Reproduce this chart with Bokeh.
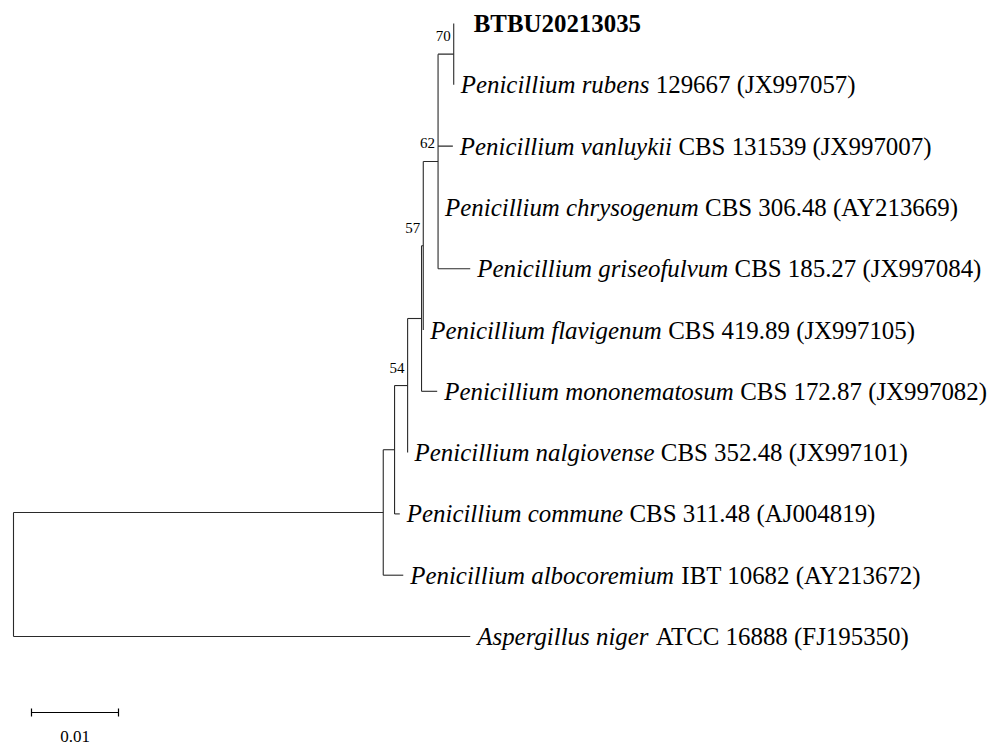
from bokeh.plotting import figure
from bokeh.models import ColumnDataSource, Range1d
from bokeh.core.properties import value
from bokeh.embed import file_html
from bokeh.resources import INLINE

# ---------------- data ----------------
# leaves, top to bottom
leaf_ids = ["BTBU20213035", "rubens", "vanluykii", "chrysogenum", "griseofulvum",
            "flavigenum", "mononematosum", "nalgiovense", "commune", "albocoremium", "niger"]
leaf_italic = ["", "Penicillium rubens", "Penicillium vanluykii", "Penicillium chrysogenum",
               "Penicillium griseofulvum", "Penicillium flavigenum", "Penicillium mononematosum",
               "Penicillium nalgiovense", "Penicillium commune", "Penicillium albocoremium",
               "Aspergillus niger"]
leaf_strain = ["BTBU20213035", "129667 (JX997057)", "CBS 131539 (JX997007)",
               "CBS 306.48 (AY213669)", "CBS 185.27 (JX997084)", "CBS 419.89 (JX997105)",
               "CBS 172.87 (JX997082)", "CBS 352.48 (JX997101)", "CBS 311.48 (AJ004819)",
               "IBT 10682 (AY213672)", "ATCC 16888 (FJ195350)"]

# tree edges: parent, child, branch length (substitutions per site)
edge_parent = ["root", "root", "pen", "pen", "a", "a", "n54", "n54", "b", "b",
               "n57", "n57", "n62", "n62", "n62", "n62", "n70", "n70"]
edge_child = ["pen", "niger", "a", "albocoremium", "n54", "commune", "b", "nalgiovense",
              "n57", "mononematosum", "n62", "flavigenum", "n70", "vanluykii",
              "chrysogenum", "griseofulvum", "BTBU20213035", "rubens"]
edge_length = [0.0425, 0.0525, 0.0013, 0.0023, 0.0015, 0.0006, 0.0016, 0.0,
               0.0002, 0.0018, 0.0017, 0.0, 0.0018, 0.0017, 0.0, 0.0037, 0.0, 0.0]

# bootstrap support
support_nodes = ["n70", "n62", "n57", "n54"]
support_values = ["70", "62", "57", "54"]

scale_bar_length = 0.01
scale_bar_label = "0.01"

# ---------------- layout ----------------
W, H = 995, 747
PX_PER_UNIT = 8700.0       # 87 px per 0.01
ROW_PX = 61.3
ROOT_PX = 13               # root position on canvas
TOP_PX = 23                # first leaf position on canvas

internal = list(dict.fromkeys(edge_parent))
children = {n: [] for n in internal}
blen = {}
for par, ch, ln in zip(edge_parent, edge_child, edge_length):
    children[par].append(ch)
    blen[ch] = ln

xpos = {"root": 0.0}
def set_x(node):
    for c in children.get(node, []):
        xpos[c] = xpos[node] + blen[c]
        set_x(c)
set_x("root")

ypos = {name: float(i) for i, name in enumerate(leaf_ids)}
def set_y(node):
    if node in ypos:
        return ypos[node]
    ys = [set_y(c) for c in children[node]]
    ypos[node] = (min(ys) + max(ys)) / 2.0
    return ypos[node]
set_y("root")

x0s, y0s, x1s, y1s = [], [], [], []
for par, ch in zip(edge_parent, edge_child):
    x0s.append(xpos[par]); y0s.append(ypos[ch]); x1s.append(xpos[ch]); y1s.append(ypos[ch])
for node in internal:
    ys = [ypos[c] for c in children[node]]
    x0s.append(xpos[node]); y0s.append(min(ys)); x1s.append(xpos[node]); y1s.append(max(ys))

p = figure(width=W, height=H, output_backend="svg", toolbar_location=None,
           x_range=Range1d(-ROOT_PX / PX_PER_UNIT, (W - ROOT_PX) / PX_PER_UNIT),
           y_range=Range1d((H - TOP_PX) / ROW_PX, -TOP_PX / ROW_PX),
           min_border=0)
p.axis.visible = False
p.grid.visible = False
p.outline_line_color = None
p.background_fill_color = "white"
p.border_fill_color = "white"

p.segment(x0=x0s, y0=y0s, x1=x1s, y1=y1s, line_color="#2a2a2a", line_width=1.1)

# ---------------- labels ----------------
FONT = value("Liberation Serif")
FS = 24.9
GAP = 7
ITALIC_W = {" ": 250, "A": 611, "P": 611, "a": 500, "b": 500, "c": 444, "e": 444, "f": 278,
            "g": 500, "h": 500, "i": 278, "k": 444, "l": 278, "m": 722, "n": 500, "o": 500,
            "p": 500, "r": 389, "s": 389, "t": 278, "u": 500, "v": 444, "y": 444}

def italic_px(s):
    return sum(ITALIC_W.get(ch, 500) for ch in s) / 1000.0 * FS

it_x, it_y, it_t, st_x, st_y, st_t, st_off = [], [], [], [], [], [], []
bold_x, bold_y, bold_t = [], [], []
for name, ital, strain in zip(leaf_ids, leaf_italic, leaf_strain):
    if ital:
        it_x.append(xpos[name]); it_y.append(ypos[name]); it_t.append(ital)
        st_x.append(xpos[name]); st_y.append(ypos[name]); st_t.append(strain)
        st_off.append(GAP + italic_px(ital) + 250 / 1000.0 * FS)
    else:
        bold_x.append(xpos[name]); bold_y.append(ypos[name]); bold_t.append(strain)

p.text(x=it_x, y=it_y, text=it_t, x_offset=GAP, text_font=FONT, text_font_size=f"{FS}px",
       text_font_style="italic", text_baseline="middle", text_color="black")
p.text(source=ColumnDataSource(dict(x=st_x, y=st_y, text=st_t, off=st_off)),
       x="x", y="y", text="text", x_offset="off", text_font=FONT,
       text_font_size=f"{FS}px", text_baseline="middle", text_color="black")
p.text(x=bold_x, y=bold_y, text=bold_t, x_offset=20, text_font=FONT,
       text_font_size=f"{FS}px", text_font_style="bold", text_baseline="middle",
       text_color="black")

sx = [xpos[n] for n in support_nodes]
sy = [ypos[n] - 13 / ROW_PX for n in support_nodes]
p.text(x=sx, y=sy, text=support_values, x_offset=-3, text_font=FONT, text_font_size="15px",
       text_align="right", text_baseline="bottom", text_color="black")

# ---------------- scale bar ----------------
sb_x0 = (31 - ROOT_PX) / PX_PER_UNIT
sb_y = (712 - TOP_PX) / ROW_PX
tick = 4 / ROW_PX
p.segment(x0=[sb_x0, sb_x0, sb_x0 + scale_bar_length],
          y0=[sb_y, sb_y - tick, sb_y - tick],
          x1=[sb_x0 + scale_bar_length, sb_x0, sb_x0 + scale_bar_length],
          y1=[sb_y, sb_y + tick, sb_y + tick], line_color="black", line_width=1.2)
p.text(x=[sb_x0 + scale_bar_length / 2], y=[(730 - TOP_PX) / ROW_PX], text=[scale_bar_label],
       text_font=FONT, text_font_size="17px", text_align="center", text_baseline="top",
       text_color="black")

open("out.html", "w").write(file_html(p, INLINE))
